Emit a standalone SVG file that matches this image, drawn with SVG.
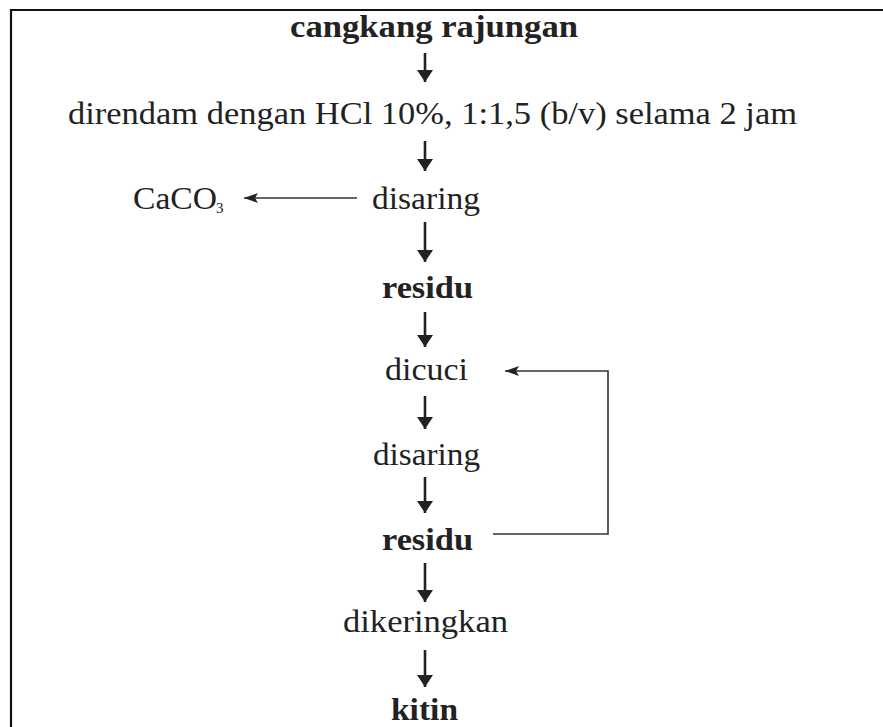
<svg xmlns="http://www.w3.org/2000/svg" width="883" height="727" viewBox="0 0 883 727">
  <style>
    .t { font-family: "Liberation Serif", "Times New Roman", serif; font-size: 31px; fill: #222; }
    .b { font-weight: bold; }
    .sub { font-family: "Liberation Serif", "Times New Roman", serif; font-size: 15px; fill: #222; }
    .down { stroke: #222; stroke-width: 2.6; fill: none; }
    .side { stroke: #333; stroke-width: 1.6; fill: none; }
    .frame { stroke: #111; stroke-width: 2.2; fill: none; }
  </style>
  <defs>
    <marker id="hd" viewBox="0 0 12 16" refX="12" refY="8" markerWidth="12" markerHeight="16" markerUnits="userSpaceOnUse" orient="auto">
      <path d="M0,0 L12,8 L0,16 Z" fill="#222"/>
    </marker>
    <marker id="hs" viewBox="0 0 14 10" refX="14" refY="5" markerWidth="14" markerHeight="10" markerUnits="userSpaceOnUse" orient="auto">
      <path d="M0,0 L14,5 L0,10 L3,5 Z" fill="#222"/>
    </marker>
  </defs>

  <path class="frame" d="M11,727 V10 H883"/>

  <g id="n1"><text class="t b" x="290" y="37" textLength="288" lengthAdjust="spacingAndGlyphs">cangkang rajungan</text></g>
  <g id="n2"><text class="t" x="68" y="124" textLength="729" lengthAdjust="spacingAndGlyphs">direndam dengan HCl 10%, 1:1,5 (b/v) selama 2 jam</text></g>
  <g id="n3"><text class="t" x="133" y="209" textLength="84" lengthAdjust="spacingAndGlyphs">CaCO</text><text class="sub" x="216" y="213">3</text></g>
  <g id="n4"><text class="t" x="372" y="209" textLength="108" lengthAdjust="spacingAndGlyphs">disaring</text></g>
  <g id="n5"><text class="t b" x="382" y="298" textLength="91" lengthAdjust="spacingAndGlyphs">residu</text></g>
  <g id="n6"><text class="t" x="385" y="380" textLength="83" lengthAdjust="spacingAndGlyphs">dicuci</text></g>
  <g id="n7"><text class="t" x="373" y="465" textLength="107" lengthAdjust="spacingAndGlyphs">disaring</text></g>
  <g id="n8"><text class="t b" x="382" y="550" textLength="91" lengthAdjust="spacingAndGlyphs">residu</text></g>
  <g id="n9"><text class="t" x="343" y="632" textLength="165" lengthAdjust="spacingAndGlyphs">dikeringkan</text></g>
  <g id="n10"><text class="t b" x="391" y="720" textLength="67" lengthAdjust="spacingAndGlyphs">kitin</text></g>

  <g id="connectors">
    <line class="down" x1="425" y1="53" x2="425" y2="82" marker-end="url(#hd)"/>
    <line class="down" x1="425" y1="141" x2="425" y2="171" marker-end="url(#hd)"/>
    <line class="side" x1="357" y1="198" x2="244" y2="198" marker-end="url(#hs)"/>
    <line class="down" x1="425" y1="222" x2="425" y2="262" marker-end="url(#hd)"/>
    <line class="down" x1="425" y1="312" x2="425" y2="347" marker-end="url(#hd)"/>
    <line class="down" x1="425" y1="396" x2="425" y2="429" marker-end="url(#hd)"/>
    <line class="down" x1="425" y1="477" x2="425" y2="513" marker-end="url(#hd)"/>
    <line class="down" x1="425" y1="563" x2="425" y2="602" marker-end="url(#hd)"/>
    <line class="down" x1="425" y1="650" x2="425" y2="687" marker-end="url(#hd)"/>
    <path class="side" d="M493,534 H608 V371 H505" marker-end="url(#hs)"/>
  </g>
</svg>
